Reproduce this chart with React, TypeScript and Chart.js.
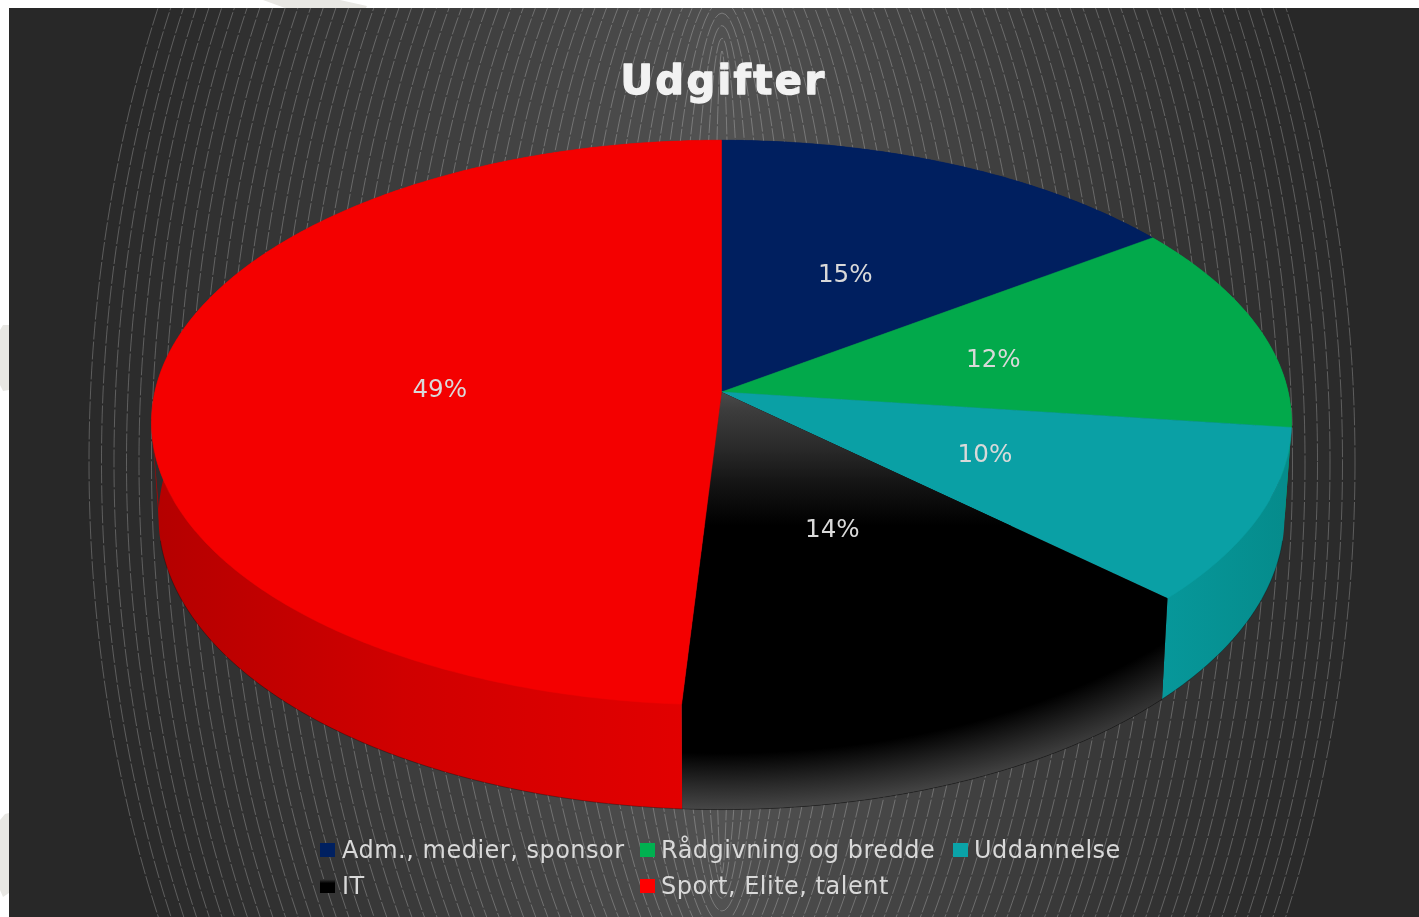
import React, { useEffect, useRef } from "react";
import { Chart, registerables } from "chart.js";

Chart.register(...registerables);

const TITLE = "Udgifter";
const categories = ["Adm., medier, sponsor", "Rådgivning og bredde", "Uddannelse", "IT", "Sport, Elite, talent"];
const values = [15, 12, 10, 14, 49];
const legendColors = ["#002060", "#00b050", "#0aa3a8", "#000000", "#ff0000"];
const faceColors = ["#001f5f", "#02a94b", "#0aa0a5", "#000000", "#f40000"];
const FONT = '"DejaVu Sans", sans-serif';
const TEXT = "#d9d9d9";

// perspective model of the pie disc
const CX = 721.5, CY = 392, RX = 566.7, RY = 279, K = 0.108, DEPTH = 93.5, SHRINK = 0.9875;
const project = (phi: number, f = 1) => {
  const u = Math.sin(phi) * f, v = -Math.cos(phi) * f;
  const w = 1 - K * v;
  return { x: CX + (RX * u) / w, y: CY + (RY * v) / w, w };
};
const lower = (p: { x: number; y: number; w: number }) => ({
  x: CX + (p.x - CX) * SHRINK,
  y: p.y + DEPTH / p.w,
});
const deg = (d: number) => (d * Math.PI) / 180;

const ringRx = (i: number) => 8 + 12.5 * i;
const ringRy = (i: number) => 411 + 12.7 * i - 0.0184 * i * i;

const paintBackdrop = (ctx: CanvasRenderingContext2D, W: number, H: number) => {
  ctx.fillStyle = "#ffffff";
  ctx.fillRect(0, 0, W, H);
  // scraps of the page behind the slide, in the white margin
  ctx.fillStyle = "#e8e7e3";
  const scraps = [
    [[263, 0], [340, 0], [367, 6], [366, 8], [285, 8]],
    [[3, 325], [9, 325], [9, 390], [3, 391], [0, 385], [0, 330]],
    [[5, 814], [9, 813], [9, 893], [3, 897], [0, 890], [0, 820]],
  ];
  scraps.forEach((s) => {
    ctx.beginPath();
    s.forEach(([x, y], i) => (i ? ctx.lineTo(x, y) : ctx.moveTo(x, y)));
    ctx.closePath();
    ctx.fill();
  });
  ctx.save();
  ctx.beginPath();
  ctx.rect(9, 8, W - 9, H - 8);
  ctx.clip();
  ctx.fillStyle = "#282828";
  ctx.fillRect(9, 8, W, H);
  const rcx = 722, rcy = 462, rings = 51;
  for (let n = rings - 1; n >= 0; n--) {
    const g = Math.round(0x53 - ((0x53 - 0x2a) * n) / (rings - 1));
    ctx.beginPath();
    ctx.ellipse(rcx, rcy, ringRx(n), ringRy(n), 0, 0, Math.PI * 2);
    ctx.fillStyle = `rgb(${g},${g},${g})`;
    ctx.fill();
  }
  ctx.setLineDash([18, 2]);
  ctx.lineWidth = 0.6;
  ctx.strokeStyle = "rgba(255,255,255,0.42)";
  for (let n = rings - 1; n >= 0; n--) {
    ctx.beginPath();
    ctx.ellipse(rcx, rcy, ringRx(n), ringRy(n), 0, 0, Math.PI * 2);
    ctx.stroke();
  }
  ctx.restore();
};

const rimPoints = (a: number, b: number) => {
  const pts = [];
  const steps = Math.max(4, Math.ceil((b - a) / 0.01));
  for (let i = 0; i <= steps; i++) pts.push(project(a + ((b - a) * i) / steps));
  return pts;
};

const wallGradient = (ctx: CanvasRenderingContext2D, index: number) => {
  const g = ctx.createLinearGradient(151, 0, 1292, 0);
  if (index === 4) {
    g.addColorStop(0, "#b40000");
    g.addColorStop(0.22, "#d00000");
    g.addColorStop(0.47, "#e20000");
    g.addColorStop(1, "#e20000");
    return g;
  }
  if (index === 2) {
    g.addColorStop(0.88, "#07989b");
    g.addColorStop(1, "#058b8b");
    return g;
  }
  return faceColors[index];
};

const pie3d = {
  id: "pie3d",
  beforeDraw(chart: any) {
    paintBackdrop(chart.ctx, chart.width, chart.height);
    chart.ctx.letterSpacing = "2.4px";
  },
  beforeDatasetsDraw(chart: any) {
    const ctx: CanvasRenderingContext2D = chart.ctx;
    // embolden the title with a stroke in its own colour
    ctx.save();
    ctx.font = `bold 40px ${FONT}`;
    ctx.textAlign = "center";
    ctx.textBaseline = "middle";
    ctx.strokeStyle = "#f2f2f2";
    ctx.lineWidth = 1.3;
    ctx.lineJoin = "round";
    const tb = chart.titleBlock;
    ctx.strokeText(TITLE, (tb.left + tb.right) / 2, tb.top + tb.height / 2);
    ctx.restore();
    ctx.letterSpacing = "0px";

    const arcs = chart.getDatasetMeta(0).data.map((arc: any) => ({
      a: arc.startAngle + Math.PI / 2,
      b: arc.endAngle + Math.PI / 2,
    }));

    const wallPath = (a: number, b: number) => {
      const top = rimPoints(a, b);
      ctx.beginPath();
      // on the front of the disc the upper edge is tucked under the face, so no seam shows
      top.forEach((p, i) => {
        const y = p.y > 500 ? p.y - 2 : p.y;
        i ? ctx.lineTo(p.x, y) : ctx.moveTo(p.x, y);
      });
      [...top].reverse().forEach((p) => {
        const q = lower(p);
        ctx.lineTo(q.x, q.y);
      });
      ctx.closePath();
    };
    const facePath = (a: number, b: number) => {
      ctx.beginPath();
      ctx.moveTo(CX, CY);
      rimPoints(a, b).forEach((p) => ctx.lineTo(p.x, p.y));
      ctx.closePath();
    };
    const rimGlow = () => {
      ctx.save();
      ctx.translate(721, 420);
      ctx.scale(700 / 392, 1);
      const g = ctx.createRadialGradient(0, 0, 0, 0, 0, 392);
      g.addColorStop(0, "rgba(74,74,74,0)");
      g.addColorStop(0.85, "rgba(74,74,74,0)");
      g.addColorStop(0.93, "rgba(74,74,74,0.55)");
      g.addColorStop(1, "rgba(74,74,74,1)");
      ctx.fillStyle = g;
      ctx.fillRect(-500, -500, 1000, 1000);
      ctx.restore();
    };

    // silhouette edges running from the top rim to the lower rim
    const flank = (topDeg: number, lowDeg: number, index: number) => {
      const t = project(deg(topDeg));
      const q1 = lower(project(deg(lowDeg)));
      const q2 = lower(t);
      ctx.beginPath();
      ctx.moveTo(t.x, t.y);
      ctx.lineTo(q1.x, q1.y);
      ctx.lineTo(q2.x, q2.y);
      ctx.closePath();
      ctx.fillStyle = wallGradient(ctx, index);
      ctx.fill();
    };
    flank(263.8, 257, 4);
    flank(96.2, 103, 2);

    // side walls first
    arcs.forEach(({ a, b }: any, i: number) => {
      wallPath(a, b);
      ctx.fillStyle = wallGradient(ctx, i);
      ctx.fill();
      if (i === 3) {
        ctx.save();
        ctx.clip();
        rimGlow();
        ctx.restore();
      }
    });
    // thin dark edge along the lower rim
    ctx.beginPath();
    rimPoints(Math.PI * 0.56, Math.PI * 1.44).forEach((p, i) => {
      const q = lower(p);
      i ? ctx.lineTo(q.x, q.y) : ctx.moveTo(q.x, q.y);
    });
    ctx.strokeStyle = "rgba(0,0,0,0.3)";
    ctx.lineWidth = 1;
    ctx.stroke();

    // top faces
    arcs.forEach(({ a, b }: any, i: number) => {
      facePath(a, b);
      ctx.fillStyle = faceColors[i];
      ctx.fill();
      if (i === 3) {
        ctx.save();
        ctx.clip();
        const g = ctx.createLinearGradient(0, 392, 0, 525);
        g.addColorStop(0, "#4a4a4a");
        g.addColorStop(0.14, "#3c3c3c");
        g.addColorStop(0.42, "#2a2a2a");
        g.addColorStop(0.66, "#161616");
        g.addColorStop(1, "#000000");
        ctx.fillStyle = g;
        ctx.fillRect(600, 392, 700, 134);
        rimGlow();
        ctx.restore();
      } else {
        ctx.strokeStyle = faceColors[i];
        ctx.lineWidth = 0.5;
        ctx.stroke();
      }
    });

    // percent labels, at half the radius of each slice
    const total = values.reduce((s, v) => s + v, 0);
    ctx.font = `24.6px ${FONT}`;
    ctx.fillStyle = TEXT;
    ctx.textAlign = "center";
    ctx.textBaseline = "middle";
    arcs.forEach(({ a, b }: any, i: number) => {
      const p = project((a + b) / 2, 0.5);
      ctx.fillText(`${Math.round((values[i] / total) * 100)}%`, p.x + 1, p.y + 2.5);
    });

    // legend
    ctx.textAlign = "left";
    ctx.font = `24px ${FONT}`;
    const swatchX = [320, 640, 953, 320, 640];
    const textX = [342, 661, 974, 342, 661];
    const rowY = [850, 886];
    const rowOf = [0, 0, 0, 1, 1];
    categories.forEach((name, i) => {
      const y = rowY[rowOf[i]];
      let fill: any = legendColors[i];
      if (i === 3) {
        const g = ctx.createLinearGradient(0, y - 7, 0, y + 7);
        g.addColorStop(0, "#3a3a3a");
        g.addColorStop(0.3, "#000000");
        fill = g;
      }
      ctx.fillStyle = fill;
      ctx.fillRect(swatchX[i], y - 7, 15, 14);
      ctx.fillStyle = TEXT;
      ctx.letterSpacing = "0.5px";
      ctx.fillText(name, textX[i], y + 2);
      ctx.letterSpacing = "0px";
    });
    return false;
  },
  afterLayout(chart: any) {
    const t = chart.titleBlock;
    if (t) {
      t.left = 523.5;
      t.right = 923.5;
      t.width = 400;
      t.top = 60;
    }
  },
};

export default function App() {
  const ref = useRef<HTMLCanvasElement>(null);
  useEffect(() => {
    const chart = new Chart(ref.current as HTMLCanvasElement, {
      type: "pie",
      data: {
        labels: categories,
        datasets: [{ data: values, backgroundColor: faceColors, borderWidth: 0 }],
      },
      options: {
        animation: false,
        responsive: false,
        devicePixelRatio: 1,
        plugins: {
          legend: { display: false },
          tooltip: { enabled: false },
          title: {
            display: true,
            text: TITLE,
            color: "#f2f2f2",
            padding: 0,
            font: { family: FONT, size: 40, weight: "bold" },
          },
        },
      },
      plugins: [pie3d],
    } as any);
    return () => chart.destroy();
  }, []);
  return (
    <canvas
      ref={ref}
      width={1419}
      height={917}
      style={{ position: "fixed", left: 0, top: 0, width: 1419, height: 917, display: "block" }}
    />
  );
}
